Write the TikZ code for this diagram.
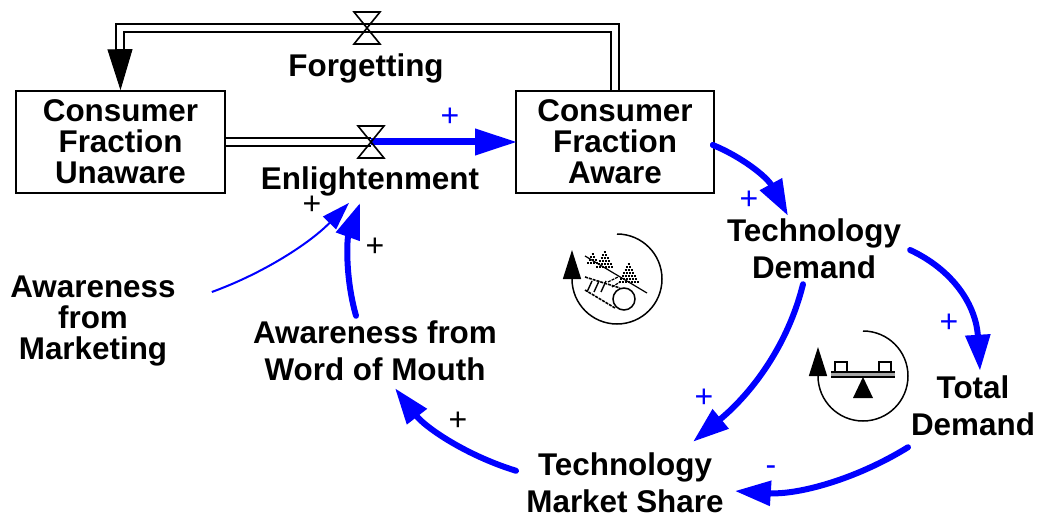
\documentclass[tikz,border=0pt]{standalone}
\usepackage{fontspec}
\setmainfont{Liberation Sans}
\usetikzlibrary{arrows.meta}
\definecolor{linkblue}{RGB}{0,0,255}
\tikzset{
    stock/.style={draw,line width=1.6pt,minimum width=209pt,minimum height=102pt,inner sep=0pt,align=center,font=\fontsize{31.4}{31}\selectfont\bfseries},
    lbl/.style={inner sep=0pt,align=center,font=\fontsize{31.4}{31}\selectfont\bfseries},
    lblwide/.style={inner sep=0pt,align=center,font=\fontsize{31.4}{37}\selectfont\bfseries},
    sign/.style={inner sep=0pt,font=\fontsize{32}{32}\selectfont},
    pipe/.style={draw=black,double=white,double distance=6.6pt,line width=1.5pt},
    valve/.style={draw,line width=1.6pt},
    link/.style={draw=linkblue,line width=6pt,line cap=round,-{Triangle[length=36pt,width=24pt]}},
    thinlink/.style={draw=linkblue,line width=2pt,-{Triangle[length=28pt,width=18pt]}},
    looparrow/.style={draw,line width=1.5pt,-{Triangle[length=29pt,width=18pt]}},
    treerow/.style={line width=2.2pt,dash pattern=on 2pt off 1pt}
}
\begin{document}
\begin{tikzpicture}[x=1pt,y=-1pt]
    \useasboundingbox (0,0) rectangle (1037,516);
    \node[stock] (unaware) at (120.5,142) {Consumer\\Fraction\\Unaware};
    \node[stock,minimum width=198pt] (aware) at (615,142) {Consumer\\Fraction\\Aware};
    \coordinate (valveF) at (367,28);
    \coordinate (valveE) at (371,142);
    \coordinate (headF) at (120,50);
    \node[lbl] (forgetting) at (366,68) {Forgetting};
    \node[lbl] (enlight) at (370,181) {Enlightenment};
    \node[lblwide] (techdemand) at (814,249) {Technology\\Demand};
    \node[lblwide] (total) at (973,406) {Total\\Demand};
    \node[lblwide] (share) at (625,483) {Technology\\Market Share};
    \node[lblwide] (mouth) at (375,351) {Awareness from\\Word of Mouth};
    \node[lbl] (marketing) at (93,321.5) {Awareness\\from\\Marketing};

    \draw[pipe] (aware.north) |- (valveF) -| (headF);
    \draw[draw=black,line width=1pt,-{Triangle[length=41pt,width=25pt]}] (headF) -- (unaware.north);
    \draw[pipe] (unaware.east |- valveE) -- (valveE);
    \draw[draw=linkblue,line width=7pt,-{Triangle[length=42pt,width=25pt]}] (valveE) -- ([xshift=2pt]aware.west |- valveE);
    \foreach \v/\w in {valveF/13,valveE/13}
        \draw[valve] (\v) -- ++(-\w,-16) -- ++(2*\w,0) -- ++(-2*\w,32) -- ++(2*\w,0) -- cycle;

    \draw[link] ([xshift=-2pt,yshift=-3pt]aware.east) .. controls (742,157) and (767,177) .. ([xshift=-26pt,yshift=3pt]techdemand.north);
    \draw[link] ([xshift=9pt,yshift=-1pt]techdemand.east) .. controls (953,270) and (976,305) .. ([xshift=7pt,yshift=5pt]total.north);
    \draw[link] ([xshift=-11pt,yshift=-5pt]techdemand.south) .. controls (788,345) and (752,393) .. ([xshift=68pt,yshift=11pt]share.north);
    \draw[link] ([xshift=-65pt,yshift=-11pt]total.south) .. controls (855,480) and (797,495) .. ([xshift=11pt,yshift=-8pt]share.east);
    \draw[link] ([xshift=-109pt,yshift=-18pt]share.north) .. controls (465,455) and (425,427) .. ([xshift=20pt,yshift=-7pt]mouth.south);
    \draw[link] ([xshift=-19pt,yshift=5pt]mouth.north) .. controls (345,277) and (347,239) .. ([xshift=-10pt,yshift=-7pt]enlight.south);
    \draw[thinlink] ([xshift=36pt,yshift=29.5pt]marketing.east) .. controls (264,273) and (310,243) .. ([xshift=-21pt,yshift=-7pt]enlight.south);

    \node[sign,text=linkblue] (plusA) at (450,117) {+};
    \node[sign,text=linkblue] (plusB) at (749,200) {+};
    \node[sign,text=linkblue] (plusC) at (949,323) {+};
    \node[sign,text=linkblue] (plusD) at (704,398) {+};
    \node[sign,text=linkblue] (minusA) at (771,471) {-};
    \node[sign] (plusE) at (458,421) {+};
    \node[sign] (plusF) at (375,247) {+};
    \node[sign] (plusG) at (312,205) {+};

    % loop marks
    \draw[looparrow] (617,234) arc[start angle=-90,end angle=180,radius=45] -- ++(0,-29);
    \draw[looparrow] (863,331) arc[start angle=-90,end angle=180,radius=45] -- ++(0,-29);

    % seesaw
    \fill[gray!70] (831,373) rectangle (895,377);
    \draw[line width=1.4pt] (831,372) -- (895,372) (831,377) -- (895,377);
    \draw[line width=1.4pt] (835,372) |- (847,362) -- (847,372);
    \draw[line width=1.4pt] (879,372) |- (891,362) -- (891,372);
    \fill (863,377) -- (873,398) -- (853,398) -- cycle;

    % snowball
    \draw[line width=1.2pt] (585,256) -- (647,293);
    \draw[line width=1.5pt] (624,299) circle (11);
    \draw[line width=1.6pt,dash pattern=on 3pt off 1pt] (585,277) -- (620,288) (585,290) -- (615,308);
    \foreach \a in {592,599,606} \draw[line width=1.4pt] (\a,281) -- ++(-5,11);
    \draw[line width=1.2pt,dash pattern=on 3pt off 1pt] (608,282) -- (618,277) (612,287) -- (620,282);
    % trees
    \foreach \x/\y/\h in {605/249/19,629/261/22,593/251/12}
        \foreach \r in {3,6,...,\h}
            \draw[treerow] (\x-.48*\r,\y+\r) -- (\x+.48*\r,\y+\r);
\end{tikzpicture}
\end{document}
